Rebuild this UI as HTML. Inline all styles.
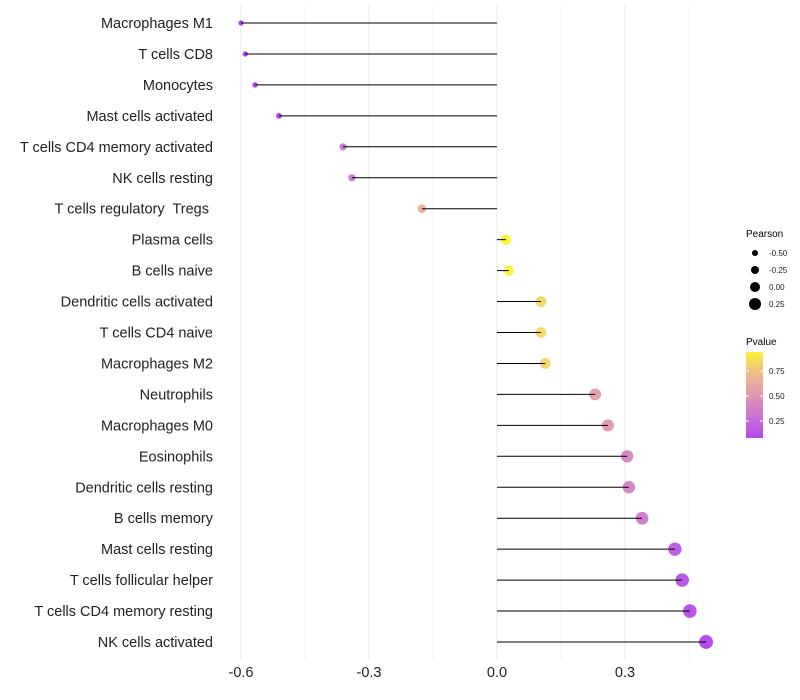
<!DOCTYPE html>
<html><head><meta charset="utf-8"><style>
body{margin:0;background:#fff;}
svg{display:block;font-family:"Liberation Sans",sans-serif;}
</style></head><body>
<svg id="chart" width="800" height="700"></svg>
<script>
const categories=["Macrophages M1","T cells CD8","Monocytes","Mast cells activated","T cells CD4 memory activated","NK cells resting","T cells regulatory  Tregs ","Plasma cells","B cells naive","Dendritic cells activated","T cells CD4 naive","Macrophages M2","Neutrophils","Macrophages M0","Eosinophils","Dendritic cells resting","B cells memory","Mast cells resting","T cells follicular helper","T cells CD4 memory resting","NK cells activated"];
const pearson=[-0.6,-0.59,-0.567,-0.511,-0.361,-0.34,-0.176,0.021,0.028,0.103,0.103,0.113,0.23,0.26,0.305,0.309,0.34,0.417,0.434,0.452,0.49];
const pvalue=[0.02,0.03,0.04,0.06,0.3,0.32,0.66,0.97,0.95,0.84,0.84,0.82,0.55,0.5,0.4,0.38,0.32,0.15,0.12,0.1,0.06];
const xTicks=[-0.6,-0.3,0.0,0.3];
const xTickLabels=["-0.6","-0.3","0.0","0.3"];
const sizeLegend=[-0.5,-0.25,0,0.25];
const sizeLegendLabels=["-0.50","-0.25","0.00","0.25"];
const colorTicks=[0.25,0.5,0.75];
const colorTickLabels=["0.25","0.50","0.75"];

const NS="http://www.w3.org/2000/svg";
const svg=document.getElementById('chart');
function mk(t,a,p){const e=document.createElementNS(NS,t);for(const k in a)e.setAttribute(k,a[k]);(p||svg).appendChild(e);return e;}
const xs=v=>497+v*426.67;
const ys=i=>23+i*30.95;
const rs=v=>5+4*v;
const stops=[[0,[160,32,240]],[0.25,[192,90,212]],[0.5,[218,138,170]],[0.75,[240,184,120]],[1,[255,255,0]]];
function col(p){p=Math.max(0,Math.min(1,p));for(let i=1;i<stops.length;i++){if(p<=stops[i][0]){const [p0,a]=stops[i-1],[p1,b]=stops[i];const f=(p-p0)/(p1-p0);return `rgb(${a.map((c,j)=>Math.round(c+(b[j]-c)*f)).join(',')})`;}}return 'rgb(255,255,0)';}

[-0.45,-0.15,0.15,0.45].forEach(v=>{const l=mk('line',{x1:xs(v),x2:xs(v),y1:5,y2:660,stroke:'#ebebeb','stroke-width':0.6});});
xTicks.forEach((v,i)=>{const l=mk('line',{x1:xs(v),x2:xs(v),y1:5,y2:660,stroke:'#ebebeb','stroke-width':1.1});
const t=mk('text',{x:xs(v),y:677,'text-anchor':'middle','font-size':14.5,fill:'#222'});t.textContent=xTickLabels[i];});
categories.forEach((c,i)=>{const y=ys(i);
const d=mk('circle',{cx:xs(pearson[i]),cy:y,r:rs(pearson[i]),fill:col(pvalue[i]),'fill-opacity':0.85});
const l=mk('line',{x1:xs(0),x2:xs(pearson[i]),y1:y,y2:y,stroke:'#000','stroke-width':1});
const t=mk('text',{x:213,y:y+5,'text-anchor':'end','font-size':14.5,fill:'#222','xml:space':'preserve'});t.style.whiteSpace='pre';t.textContent=c;});
let t=mk('text',{x:746,y:237,'font-size':10,fill:'#000'});t.textContent='Pearson';
sizeLegend.forEach((v,i)=>{const y=253+i*17;const c=mk('circle',{cx:755,cy:y,r:rs(v),fill:'#000'});
const tt=mk('text',{x:769,y:y+3,'font-size':8,fill:'#222'});tt.textContent=sizeLegendLabels[i];});
t=mk('text',{x:746,y:345,'font-size':10,fill:'#000'});t.textContent='Pvalue';
const defs=mk('defs',{});const g=mk('linearGradient',{id:'pg',x1:0,y1:1,x2:0,y2:0},defs);
for(let k=0;k<=10;k++){const p=0.08+(0.94-0.08)*k/10;mk('stop',{offset:k/10,'stop-color':col(p)},g);}
const cb=mk('rect',{x:746,y:352,width:17,height:86,fill:'url(#pg)','fill-opacity':0.9});
const cy=v=>438-(v-0.08)*100;
colorTicks.forEach((v,i)=>{mk('line',{x1:746,x2:749,y1:cy(v),y2:cy(v),stroke:'#fff'});mk('line',{x1:760,x2:763,y1:cy(v),y2:cy(v),stroke:'#fff'});
const tt=mk('text',{x:769,y:cy(v)+3,'font-size':8,fill:'#222'});tt.textContent=colorTickLabels[i];});
</script>
</body></html>
